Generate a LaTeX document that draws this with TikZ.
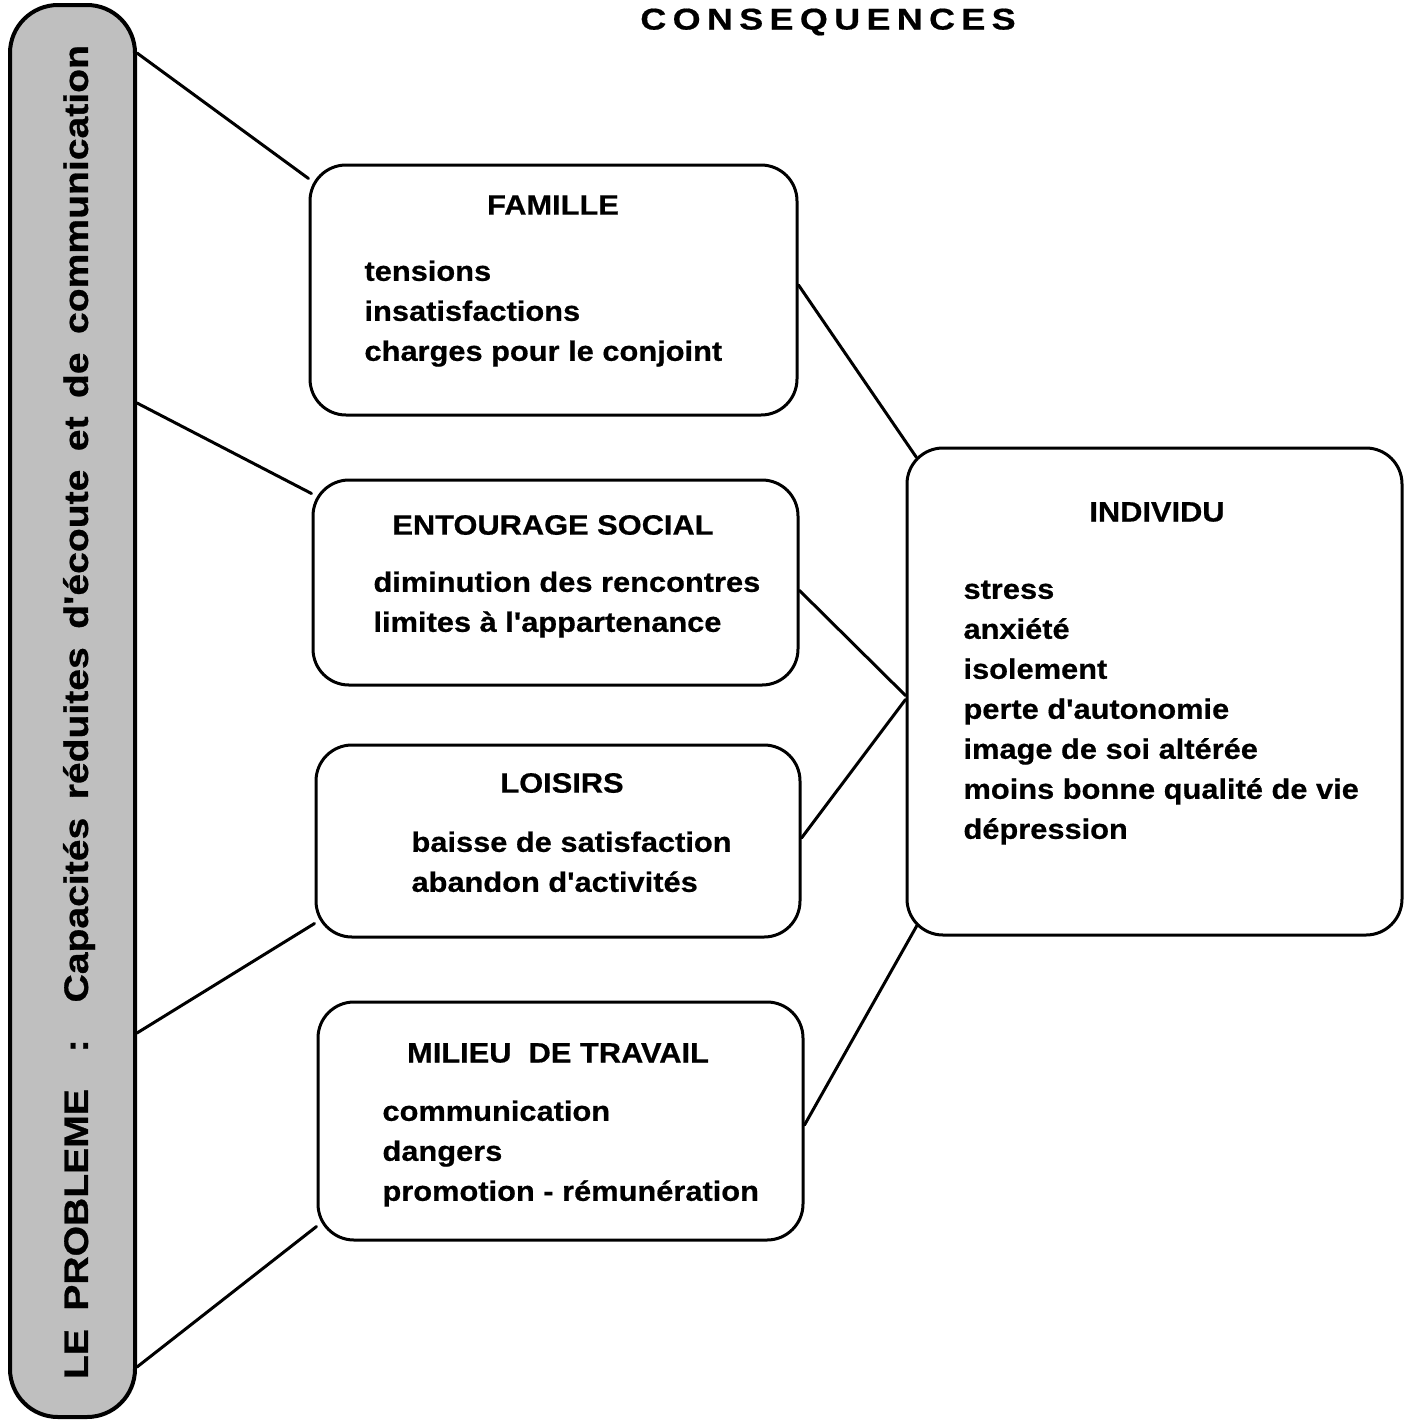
\documentclass[tikz,border=0pt]{standalone}
\usepackage{fontspec}
\newfontfamily\diagfont{Liberation Sans}[FakeStretch=1.1,FakeBold=0.6]
\newfontfamily\barfont{Liberation Sans}[FakeStretch=1.15,FakeBold=0.8]
\newfontfamily\titlefont{Liberation Sans}[FakeStretch=1.2,LetterSpace=21,FakeBold=0.6]
\usetikzlibrary{calc}

\begin{document}
\begin{tikzpicture}[x=.5pt,y=-.5pt,every path/.style={line width=1.5pt}]
  \tikzstyle{panel} = [draw,rounded corners=18pt,inner sep=0pt];
  \tikzstyle{heading} = [inner sep=0pt,font=\diagfont\bfseries\fontsize{14}{20}\selectfont];
  \tikzstyle{items} = [heading,align=left,anchor=north west];
  \tikzset{link/.style={line cap=round}};
  \useasboundingbox (0,0) rectangle (1405,1420);
  \node[heading,font=\titlefont\bfseries\fontsize{15}{18}\selectfont] (title) at (828,22) {CONSEQUENCES};
  \node[panel,fill=gray!50,line width=2pt,rounded corners=24pt,minimum width=62.5pt,minimum height=706pt] (bar) at (72.5,711) {};
  \node[heading,rotate=90,font=\barfont\bfseries\fontsize{17}{20}\selectfont] (problem) at (79,712)
    {\makebox[667pt][s]{LE PROBLEME~~:~~Capacités réduites d'écoute et de communication}};
  \node[panel,minimum width=243.5pt,minimum height=125pt] (fam) at (553.5,290) {};
  \node[panel,minimum width=242.5pt,minimum height=102.5pt] (ent) at (555.5,582.5) {};
  \node[panel,minimum width=242pt,minimum height=96pt] (loi) at (558,841) {};
  \node[panel,minimum width=242.5pt,minimum height=119pt] (mil) at (560.5,1121) {};
  \node[panel,minimum width=247.5pt,minimum height=243.5pt] (ind) at (1154.5,691.5) {};
  \node[heading] (famtitle) at (553,205) {FAMILLE};
  \node[items] (famlist) at (363,259) {tensions\\insatisfactions\\charges pour le conjoint};
  \node[heading] (enttitle) at (553,525) {ENTOURAGE SOCIAL};
  \node[items] (entlist) at (372,570) {diminution des rencontres\\limites à l'appartenance};
  \node[heading] (loititle) at (562,783) {LOISIRS};
  \node[items] (loilist) at (410,830) {baisse de satisfaction\\abandon d'activités};
  \node[heading] (miltitle) at (558,1053) {MILIEU~~DE TRAVAIL};
  \node[items] (millist) at (381,1099) {communication\\dangers\\promotion - rémunération};
  \node[heading] (indtitle) at (1157,512) {INDIVIDU};
  \node[items] (indlist) at (962,579) {stress\\anxiété\\isolement\\perte d'autonomie\\image de soi altérée\\moins bonne qualité de vie\\dépression};
  \draw[link] ($(bar.north east)+(0,50)$) -- ($(fam.north west)+(0,15)$);
  \draw[link] ($(bar.north east)+(0,400)$) -- ($(ent.north west)+(0,15)$);
  \draw[link] ($(bar.north east)+(0,1030)$) -- ($(loi.south west)+(0,-15)$);
  \draw[link] ($(bar.south east)+(0,-52)$) -- ($(mil.south west)+(0,-15)$);
  \draw[link] ($(fam.east)+(0,-5)$) -- ($(ind.north west)+(11,11)$);
  \draw[link] ($(ent.east)+(0,8)$) -- ($(ind.west)+(0,4)$);
  \draw[link] ($(loi.east)+(0,-3)$) -- ($(ind.west)+(0,8)$);
  \draw[link] ($(mil.east)+(0,4)$) -- ($(ind.south west)+(12,-12)$);
\end{tikzpicture}
\end{document}
